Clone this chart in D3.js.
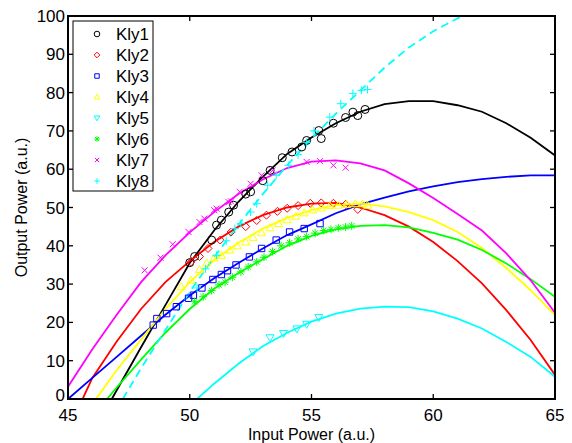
<!DOCTYPE html>
<html>
<head>
<meta charset="utf-8">
<script src="https://cdn.jsdelivr.net/npm/d3@7"></script>
<style>
  body { margin: 0; background: #fff; }
  text { font-family: "Liberation Sans", Arial, sans-serif; fill: #000; }
</style>
</head>
<body>
<div id="chart"></div>
<script>
var names = ["Kly1", "Kly2", "Kly3", "Kly4", "Kly5", "Kly6", "Kly7", "Kly8"];
var colors = ["#000000", "#ff0000", "#0000ff", "#ffff00", "#00ffff", "#00ff00", "#ff00ff", "#00ffff"];
var markers = ["o", "d", "s", "^", "v", "*", "x", "+"];
var xTicks = [45, 50, 55, 60, 65];
var yTicks = [0, 10, 20, 30, 40, 50, 60, 70, 80, 90, 100];

var kly1X = [50.0, 50.2, 50.9, 51.1, 51.3, 51.6, 51.8, 52.3, 52.5, 53.0, 53.3, 53.8, 54.2, 54.6, 54.8, 55.3, 55.4, 55.9, 56.4, 56.7, 56.9, 57.2];
var kly1Y = [35.6, 37.2, 41.5, 45.4, 46.7, 48.8, 50.6, 53.5, 54.1, 57.0, 59.7, 63.0, 64.5, 65.8, 67.5, 70.1, 68.0, 72.0, 73.5, 74.9, 74.0, 75.6];
var kly2X = [50.05, 50.4, 50.75, 51.25, 51.7, 52.3, 52.75, 53.15, 53.6, 54.0, 54.45, 54.95, 55.4, 55.9, 56.4, 56.9];
var kly2Y = [35.8, 37.2, 39.3, 41.5, 43.6, 45.0, 46.6, 48.0, 49.0, 49.8, 50.5, 51.1, 51.2, 51.1, 50.8, 49.5];
var kly3X = [48.5, 48.65, 49.05, 49.45, 49.95, 50.15, 50.5, 50.95, 51.3, 51.55, 51.9, 52.45, 52.95, 53.55, 54.1, 54.7, 55.35];
var kly3Y = [19.3, 21.0, 22.3, 24.1, 26.3, 27.1, 29.0, 31.2, 32.5, 33.5, 35.0, 37.1, 39.3, 41.5, 43.6, 44.5, 45.8];
var kly4X = [49.65, 50.05, 50.4, 50.7, 51.0, 51.3, 51.65, 51.95, 52.3, 52.6, 52.95, 53.3, 53.65, 54.0, 54.35, 54.7, 55.05, 55.4, 55.75, 56.1, 56.45, 56.8, 57.1, 57.3];
var kly4Y = [29.3, 31.0, 33.8, 35.5, 36.8, 37.5, 38.9, 40.0, 41.0, 42.2, 43.4, 44.7, 45.8, 46.8, 47.7, 48.6, 49.4, 49.9, 50.5, 50.6, 50.8, 51.0, 51.0, 50.6];
var kly5X = [52.6, 53.3, 53.85, 54.4, 54.8, 55.3];
var kly5Y = [12.3, 16.0, 17.1, 18.3, 19.5, 21.3];
var kly6X = [50.2, 50.55, 50.9, 51.2, 51.45, 51.75, 52.1, 52.4, 52.75, 53.05, 53.4, 53.75, 54.1, 54.45, 54.8, 55.15, 55.5, 55.8, 56.1, 56.4, 56.65];
var kly6Y = [25.4, 26.7, 28.3, 29.8, 30.5, 31.8, 33.2, 34.5, 35.8, 37.0, 38.5, 40.0, 40.8, 41.8, 42.4, 43.3, 44.0, 44.3, 44.7, 44.9, 45.2];
var kly7X = [48.15, 48.8, 49.3, 49.95, 50.4, 50.6, 51.0, 51.1, 51.6, 51.7, 52.05, 52.5, 52.95, 53.4, 54.8, 55.35, 55.9, 56.4];
var kly7Y = [33.6, 36.9, 40.4, 43.6, 46.2, 47.1, 49.3, 49.7, 51.4, 51.6, 54.1, 56.2, 58.4, 59.7, 61.9, 62.1, 61.0, 60.4];
var kly8X = [50.3, 50.65, 51.1, 51.5, 51.85, 52.1, 52.5, 52.75, 53.2, 53.55, 54.05, 54.45, 54.8, 55.1, 55.75, 56.2, 56.7, 57.05, 57.3];
var kly8Y = [29.0, 34.0, 37.5, 41.3, 44.5, 45.8, 48.8, 51.0, 55.8, 58.4, 61.0, 63.8, 67.0, 70.0, 73.6, 77.1, 79.8, 80.6, 80.8];

var fit1X = [46.8, 47, 48, 49, 50, 51, 52, 53, 54, 55, 56, 57, 58, 59, 60, 61, 62, 63, 64, 65];
var fit1Y = [0, 2.3, 13.5, 24.5, 35.5, 44, 51.5, 58, 64, 68.3, 72, 75, 77, 77.8, 77.8, 76.7, 75, 72, 68.2, 63.6];
var fit2X = [45.6, 46, 47, 48, 49, 50, 51, 52, 53, 54, 55, 56, 57, 58, 59, 60, 61, 62, 63, 64, 65];
var fit2Y = [0, 5.5, 15, 23.5, 30.5, 36, 41, 45, 48, 50, 51, 51.2, 50, 48, 45, 41, 36, 30.2, 23.2, 15.4, 6.3];
var fit3X = [45, 46, 47, 48, 49, 50, 51, 52, 53, 54, 55, 56, 57, 58, 59, 60, 61, 62, 63, 64, 65];
var fit3Y = [0, 5.5, 11, 16.5, 22, 27, 31.5, 35.5, 39.3, 42.8, 45.6, 48.5, 50.8, 52.6, 54.2, 55.5, 56.6, 57.4, 58, 58.4, 58.4];
var fit4X = [46.15, 47, 48, 49, 50, 51, 52, 53, 54, 55, 56, 57, 58, 59, 60, 61, 62, 63, 64, 65];
var fit4Y = [0, 7.5, 15.5, 23.5, 30.5, 36.3, 40.8, 44.5, 47.3, 49.3, 50.6, 51, 50.3, 48.8, 46.7, 43.6, 39.4, 34.2, 28.4, 21.9];
var fit5X = [50.3, 51, 52, 53, 54, 55, 56, 57, 58, 59, 60, 61, 62, 63, 64, 65];
var fit5Y = [0, 4, 9.2, 13.8, 17.3, 20.2, 22.3, 23.6, 24.1, 24, 22.9, 21, 18.4, 14.9, 11, 5.8];
var fit6X = [46.6, 47, 48, 49, 50, 51, 52, 53, 54, 55, 56, 57, 58, 59, 60, 61, 62, 63, 64, 65];
var fit6Y = [0, 3, 10.3, 17.3, 23.5, 28.8, 32.9, 36.5, 40, 42.6, 44.3, 45.2, 45.4, 44.8, 43.4, 41.6, 38.9, 35.4, 31.3, 26.7];
var fit7X = [45, 46, 47, 48, 49, 50, 51, 52, 53, 54, 55, 56, 57, 58, 59, 60, 61, 62, 63, 64, 65];
var fit7Y = [3.2, 13, 22, 30.5, 37.5, 43.5, 48.8, 53.5, 57.3, 60.3, 62, 62.3, 61.5, 59.7, 56.3, 52.5, 48.3, 44, 38, 31, 22.5];
var fit8X = [47.25, 48, 49, 50, 51, 52, 53, 54, 55, 56, 57, 58, 59, 60, 61, 62];
var fit8Y = [0, 8, 18, 28, 37, 45.5, 53.5, 61, 68, 74.5, 80.5, 86.5, 91.8, 96, 99.4, 102];

(function() {
    'use strict';

    var width = 572, height = 443;
    var plot = {left: 68, top: 16, right: 555, bottom: 399};

    var pointsX = [kly1X, kly2X, kly3X, kly4X, kly5X, kly6X, kly7X, kly8X];
    var pointsY = [kly1Y, kly2Y, kly3Y, kly4Y, kly5Y, kly6Y, kly7Y, kly8Y];
    var fitsX = [fit1X, fit2X, fit3X, fit4X, fit5X, fit6X, fit7X, fit8X];
    var fitsY = [fit1Y, fit2Y, fit3Y, fit4Y, fit5Y, fit6Y, fit7Y, fit8Y];

    var x = d3.scaleLinear().domain([45, 65]).range([plot.left, plot.right]);
    var y = d3.scaleLinear().domain([0, 100]).range([plot.bottom, plot.top]);

    var svg = d3.select("#chart").append("svg")
        .attr("width", width)
        .attr("height", height)
        .style("display", "block");

    svg.append("rect").attr("width", width).attr("height", height).attr("fill", "#fff");

    svg.append("clipPath").attr("id", "clip")
        .append("rect")
        .attr("x", plot.left).attr("y", plot.top)
        .attr("width", plot.right - plot.left)
        .attr("height", plot.bottom - plot.top);

    function markerPath(type, s) {
        switch (type) {
            case "o": return "M" + s + ",0A" + s + "," + s + " 0 1,1 " + (-s) + ",0A" + s + "," + s + " 0 1,1 " + s + ",0Z";
            case "d": return "M0," + (-s) + "L" + s + ",0L0," + s + "L" + (-s) + ",0Z";
            case "s": var q = s * 0.8; return "M" + (-q) + "," + (-q) + "H" + q + "V" + q + "H" + (-q) + "Z";
            case "^": return "M0," + (-s) + "L" + s + "," + (s * 0.75) + "L" + (-s) + "," + (s * 0.75) + "Z";
            case "v": return "M0," + s + "L" + s + "," + (-s * 0.75) + "L" + (-s) + "," + (-s * 0.75) + "Z";
            case "x": var a = s * 0.75; return "M" + (-a) + "," + (-a) + "L" + a + "," + a + "M" + (-a) + "," + a + "L" + a + "," + (-a);
            case "+": return "M" + (-s) + ",0H" + s + "M0," + (-s) + "V" + s;
            case "*": var b = s * 0.7; return "M" + (-s) + ",0H" + s + "M0," + (-s) + "V" + s +
                "M" + (-b) + "," + (-b) + "L" + b + "," + b + "M" + (-b) + "," + b + "L" + b + "," + (-b);
        }
    }

    var plotArea = svg.append("g").attr("clip-path", "url(#clip)");

    var line = d3.line()
        .x(function(d) { return x(d[0]); })
        .y(function(d) { return y(d[1]); });

    // fitted curves
    for (var i = 0; i < names.length; i++) {
        plotArea.append("path")
            .datum(d3.zip(fitsX[i], fitsY[i]))
            .attr("fill", "none")
            .attr("stroke", colors[i])
            .attr("stroke-width", 1.8)
            .attr("stroke-dasharray", i === 7 ? "8,5" : null)
            .attr("d", line);
    }

    // measured points
    for (var j = 0; j < names.length; j++) {
        plotArea.append("g").selectAll("path")
            .data(d3.zip(pointsX[j], pointsY[j]))
            .enter().append("path")
            .attr("transform", function(d) { return "translate(" + x(d[0]) + "," + y(d[1]) + ")"; })
            .attr("d", markerPath(markers[j], 4))
            .attr("fill", "none")
            .attr("stroke", colors[j])
            .attr("stroke-width", 1);
    }

    // axes box with inward ticks on all sides
    var axes = svg.append("g");
    axes.append("rect")
        .attr("x", plot.left).attr("y", plot.top)
        .attr("width", plot.right - plot.left)
        .attr("height", plot.bottom - plot.top)
        .attr("fill", "none")
        .attr("stroke", "#000")
        .attr("stroke-width", 2);

    var tickLen = 5;
    xTicks.forEach(function(t) {
        axes.append("line").attr("x1", x(t)).attr("x2", x(t))
            .attr("y1", plot.bottom).attr("y2", plot.bottom - tickLen)
            .attr("stroke", "#000").attr("stroke-width", 1.3);
        axes.append("line").attr("x1", x(t)).attr("x2", x(t))
            .attr("y1", plot.top).attr("y2", plot.top + tickLen)
            .attr("stroke", "#000").attr("stroke-width", 1.3);
        axes.append("text")
            .attr("x", x(t)).attr("y", 421)
            .attr("text-anchor", "middle")
            .style("font-size", "17px")
            .text(t);
    });
    yTicks.forEach(function(t) {
        axes.append("line").attr("y1", y(t)).attr("y2", y(t))
            .attr("x1", plot.left).attr("x2", plot.left + tickLen)
            .attr("stroke", "#000").attr("stroke-width", 1.3);
        axes.append("line").attr("y1", y(t)).attr("y2", y(t))
            .attr("x1", plot.right).attr("x2", plot.right - tickLen)
            .attr("stroke", "#000").attr("stroke-width", 1.3);
        // the bottom label sits a little higher, clear of the x labels
        axes.append("text")
            .attr("x", 65).attr("y", y(t) + (t === 0 ? 2 : 6))
            .attr("text-anchor", "end")
            .style("font-size", "17px")
            .text(t);
    });

    svg.append("text")
        .attr("x", (plot.left + plot.right) / 2)
        .attr("y", 440)
        .attr("text-anchor", "middle")
        .style("font-size", "16px")
        .text("Input Power (a.u.)");

    svg.append("text")
        .attr("transform", "translate(27," + ((plot.top + plot.bottom) / 2) + ") rotate(-90)")
        .attr("text-anchor", "middle")
        .style("font-size", "16px")
        .text("Output Power (a.u.)");

    // legend (markers only)
    var legend = svg.append("g");
    legend.append("rect")
        .attr("x", 73).attr("y", 21)
        .attr("width", 80).attr("height", 170)
        .attr("fill", "#fff")
        .attr("stroke", "#000")
        .attr("stroke-width", 1);
    names.forEach(function(n, k) {
        var ly = 34 + k * 21;
        legend.append("path")
            .attr("transform", "translate(97," + ly + ")")
            .attr("d", markerPath(markers[k], 2.8))
            .attr("fill", "none")
            .attr("stroke", colors[k])
            .attr("stroke-width", 1);
        legend.append("text")
            .attr("x", 116).attr("y", ly + 6)
            .style("font-size", "17px")
            .text(n);
    });
})();
</script>
</body>
</html>
